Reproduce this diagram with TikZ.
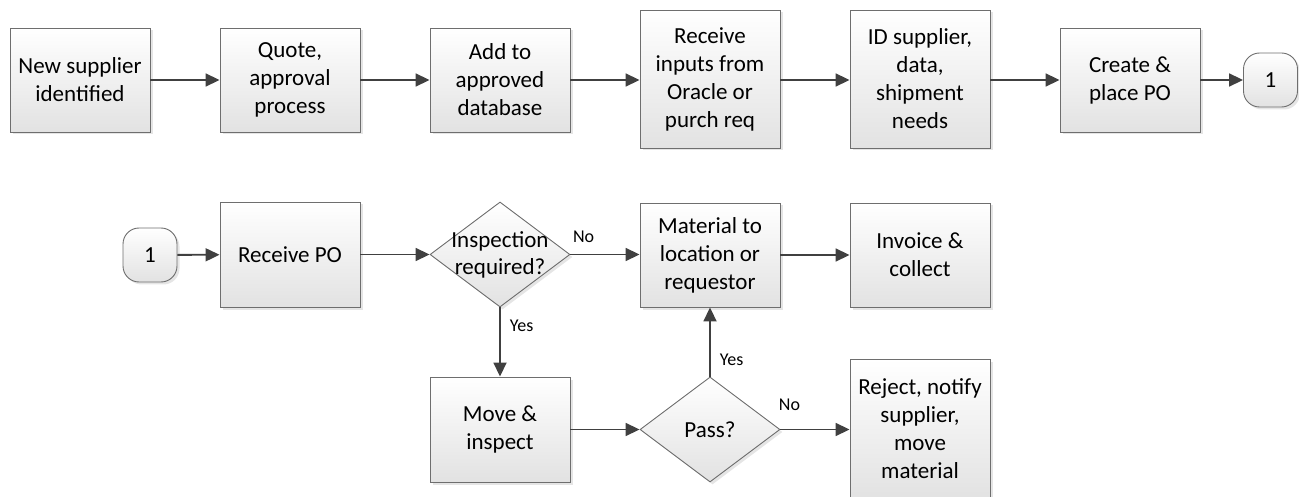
\documentclass[tikz,border=0pt]{standalone}
\usepackage{fontspec}
\setmainfont{Carlito}
\usetikzlibrary{arrows.meta,shapes.geometric,shadows}
\definecolor{linec}{RGB}{64,64,64}
\definecolor{boxc}{RGB}{110,110,110}
\definecolor{fillb}{RGB}{226,226,226}
\begin{document}
\begin{tikzpicture}[x=1pt,y=-1pt,
  base/.style={draw=boxc, line width=0.9pt, top color=white, bottom color=fillb,
    drop shadow={shadow xshift=2.5pt, shadow yshift=-2.5pt, fill=black!20, opacity=0.5},
    inner sep=0pt, align=center, font=\fontsize{23}{28}\selectfont},
  proc/.style={base, rectangle, minimum width=140pt, minimum height=104pt},
  tallproc/.style={proc, minimum height=138pt},
  dec/.style={base, diamond, minimum width=140pt, minimum height=105pt},
  conn/.style={base, rectangle, rounded corners=16pt, minimum width=54pt, minimum height=54pt},
  arr/.style={draw=linec, line width=1.8pt, -{Triangle[length=14pt,width=13pt]}},
  lbl/.style={font=\fontsize{18}{20}\selectfont, inner sep=0pt}
]
\useasboundingbox (0,0) rectangle (1299,497);

% row 1
\node[proc] (n1) at (80,80) {New supplier\\identified};
\node[proc] (n2) at (290,80) {Quote,\\approval\\process};
\node[proc] (n3) at (500,80) {Add to\\approved\\database};
\node[tallproc] (n4) at (710,79) {Receive\\inputs from\\Oracle or\\purch req};
\node[tallproc] (n5) at (920,79) {ID supplier,\\data,\\shipment\\needs};
\node[proc] (n6) at (1130,80) {Create \&\\place PO};
\node[conn] (c1) at (1270.5,80) {1};

\draw[arr] (n1) -- (n2);
\draw[arr] (n2) -- (n3);
\draw[arr] (n3) -- (n4.west |- n3.east);
\draw[arr] (n4.east |- n3.east) -- (n5.west |- n3.east);
\draw[arr] (n5.east |- n6.west) -- (n6);
\draw[arr] (n6) -- (c1);

% row 2
\node[conn] (c2) at (150,255) {1};
\node[proc, minimum height=105pt] (po) at (290,254.5) {Receive PO};
\node[dec, label={[align=center, font=\fontsize{23}{27}\selectfont]center:{Inspection\\required?}}] (d1) at (500,254.5) {};
\node[proc] (mat) at (710,255) {Material to\\location or\\requestor};
\node[proc] (inv) at (920,255) {Invoice \&\\collect};
\node[proc, minimum height=105pt] (mv) at (500,429.5) {Move \&\\inspect};
\node[dec] (ps) at (710,429.5) {Pass?};
\node[proc, minimum height=140pt] (rej) at (920,429) {Reject, notify\\supplier,\\move\\material};

\draw[arr] (c2) -- (po);
\draw[arr] (po) -- (d1);
\draw[arr] (d1.east) -- node[lbl, pos=0.19, yshift=18pt] {No} (mat.west |- d1.east);
\draw[arr] (mat) -- (inv);
\draw[arr] (d1.south) -- node[lbl, pos=0.26, anchor=west, xshift=9pt] {Yes} (mv.north);
\draw[arr] (mv.east) -- (ps.west);
\draw[arr] (ps.north) -- node[lbl, pos=0.24, anchor=west, xshift=9pt] {Yes} (mat.south);
\draw[arr] (ps.east) -- node[lbl, pos=0.13, yshift=25pt] {No} (rej.west |- ps.east);
\end{tikzpicture}
\end{document}
